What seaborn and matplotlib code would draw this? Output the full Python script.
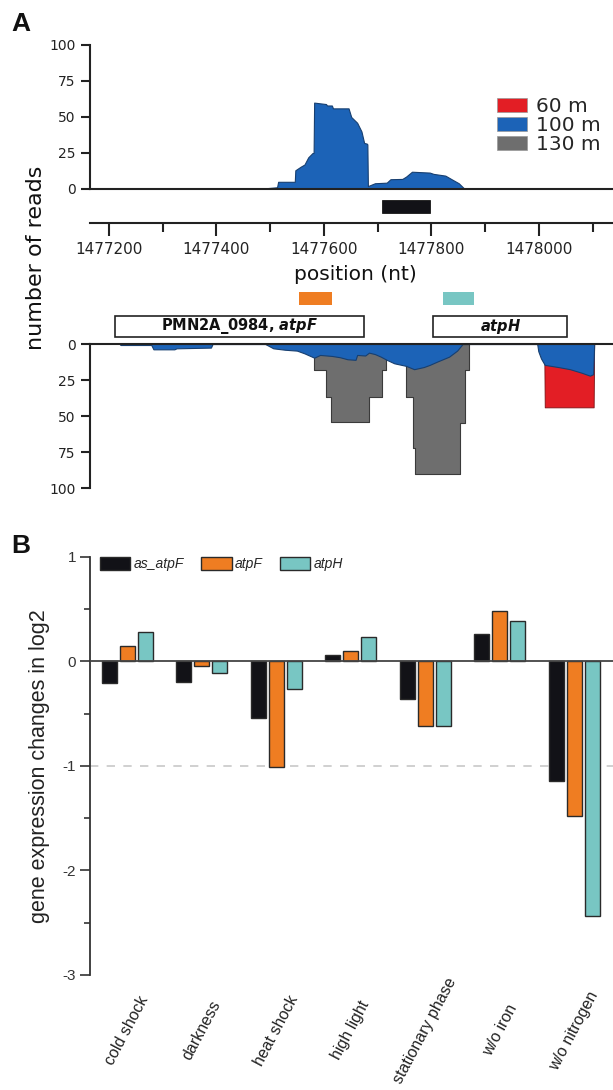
import pandas as pd
import seaborn as sns
import matplotlib.pyplot as plt
from matplotlib.patches import Patch

# --- данные панели A: покрытие ридами (позиция в нт, число ридов) ---
top_pos = [1477491, 1477513, 1477515, 1477546, 1477547, 1477557, 1477564, 1477571,
           1477579, 1477581, 1477582, 1477604, 1477606, 1477615, 1477617, 1477646,
           1477651, 1477662, 1477670, 1477675, 1477680, 1477681, 1477682, 1477695,
           1477717, 1477724, 1477746, 1477753, 1477764, 1477797, 1477804, 1477826,
           1477840, 1477851, 1477862]
top_100m = [0.5, 1.2, 5, 5, 13, 15.5, 17, 22, 25, 25, 60, 59, 58, 58, 56, 56,
            50, 46, 40, 32, 31.5, 31, 2, 4, 4.4, 6.8, 7, 8.6, 12, 11.4, 10.5, 9.3,
            6.3, 4, 0]

bot_pos_100 = [1477220, 1477222, 1477279, 1477283, 1477322, 1477326, 1477390, 1477393,
               1477491, 1477506, 1477528, 1477550, 1477564, 1477579, 1477582, 1477593,
               1477615, 1477630, 1477644, 1477659, 1477662, 1477677, 1477684, 1477695,
               1477706, 1477717, 1477731, 1477753, 1477768, 1477786, 1477797, 1477811,
               1477833, 1477848, 1477855, 1477858, 1477997, 1477999, 1478001, 1478004,
               1478011, 1478036, 1478058, 1478080, 1478095, 1478101, 1478103]
bot_100m = [0, 0.7, 0.7, 3.7, 3.7, 3, 2.5, 0, 0, 3, 4, 4.6, 6.5, 9, 9.5, 7.6,
            8.3, 9.2, 10.6, 11, 7.6, 8, 6, 7, 8.8, 11, 13.4, 15.2, 17.5, 16, 14.5, 12.2,
            8.8, 4.6, 1.4, 0, 0, 5, 7, 10, 14.5, 16, 17.5, 20, 22, 21, 0]

gray_pos = [1477582, 1477604, 1477613, 1477684, 1477708, 1477715, 1477753, 1477766,
            1477770, 1477853, 1477862, 1477871]
bot_130m = [18, 37, 54, 37, 18, 0, 37, 72, 90, 55, 18, 0]

red_pos = [1478010, 1478011, 1478102, 1478103]
bot_60m = [0, 44, 44, 0]

# элементы генома
as_atpF_span = (1477708, 1477797)
atpF_probe = (1477553, 1477615)
atpH_probe = (1477821, 1477879)
gene_starts = [1477212, 1477804]
gene_ends = [1477675, 1478053]
gene_labels = [r'PMN2A_0984, $\mathit{atpF}$', r'$\mathit{atpH}$']

# --- данные панели B ---
conditions = ['cold shock', 'darkness', 'heat shock', 'high light',
              'stationary phase', 'w/o iron', 'w/o nitrogen']
genes = ['as_atpF', 'atpF', 'atpH']
as_atpF = [-0.21, -0.20, -0.54, 0.06, -0.36, 0.26, -1.14]
atpF = [0.15, -0.04, -1.01, 0.10, -0.62, 0.48, -1.48]
atpH = [0.28, -0.11, -0.26, 0.23, -0.62, 0.39, -2.44]

red, blue, gray = '#e31e25', '#1c63b7', '#6e6e6e'
c_black, c_orange, c_teal = '#121217', '#ef7d22', '#78c6c3'
dark = '#222222'

sns.set_theme(style='white')
plt.rcParams['font.family'] = ['DejaVu Sans']
plt.rcParams['axes.unicode_minus'] = False
plt.rcParams['mathtext.fontset'] = 'custom'
plt.rcParams['mathtext.it'] = 'DejaVu Sans:italic:bold'
plt.rcParams['mathtext.rm'] = 'DejaVu Sans:bold'

W, H = 613, 1090
fig = plt.figure(figsize=(W / 100, H / 100), dpi=100)


def px_axes(x0, y0, x1, y1):
    return fig.add_axes([x0 / W, 1 - y1 / H, (x1 - x0) / W, (y1 - y0) / H])


xlim = (1477165, 1478138)

ax_top = px_axes(90, 45, 613, 189)
ax_mid = px_axes(90, 189, 613, 344)
ax_bot = px_axes(90, 344, 613, 488)
ax_b = px_axes(90, 557, 613, 975)

# верхнее покрытие
ax_top.fill_between(top_pos, top_100m, color=blue, edgecolor='#173f70', lw=0.8)
ax_top.set_xlim(xlim)
ax_top.set_ylim(0, 100)
ax_top.set_yticks([0, 25, 50, 75, 100])
ax_top.set_xticks([])
for s in ['top', 'right']:
    ax_top.spines[s].set_visible(False)
for s in ['left', 'bottom']:
    ax_top.spines[s].set_color(dark)
    ax_top.spines[s].set_linewidth(1.5)
ax_top.tick_params(axis='y', left=True, length=6.5, width=1.5, color=dark,
                   pad=4, labelsize=10, labelcolor=dark)
ax_top.set_facecolor('none')

handles = [Patch(facecolor=c, edgecolor='#999999', lw=0.5) for c in [red, blue, gray]]
ax_top.legend(handles, ['60 m', '100 m', '130 m'], loc='upper left',
              bbox_to_anchor=((497 - 90) / 523, (189 - 97) / 144), frameon=False,
              fontsize=14.5, handlelength=1.5, handleheight=0.65,
              handletextpad=0.45, labelspacing=0.0, borderpad=0, borderaxespad=0)

# нижнее покрытие (обратная ось)
ax_bot.fill_between(red_pos, bot_60m, color=red, edgecolor='#7a1014', lw=0.6)
ax_bot.fill_between(gray_pos, bot_130m, step='post', color=gray,
                    edgecolor='#3a3a3a', lw=0.8)
ax_bot.fill_between(bot_pos_100, bot_100m, color=blue, edgecolor='#173f70', lw=0.8)
ax_bot.set_xlim(xlim)
ax_bot.set_ylim(100, 0)
ax_bot.set_yticks([0, 25, 50, 75, 100])
ax_bot.set_xticks([])
for s in ['bottom', 'right']:
    ax_bot.spines[s].set_visible(False)
for s in ['left', 'top']:
    ax_bot.spines[s].set_color(dark)
    ax_bot.spines[s].set_linewidth(1.5)
ax_bot.tick_params(axis='y', left=True, length=6.5, width=1.5, color=dark,
                   pad=4, labelsize=10, labelcolor=dark)
ax_bot.set_facecolor('none')

# средняя часть: шкала позиций, антисмысловой транскрипт, зонды, гены
ax_mid.set_xlim(xlim)
ax_mid.set_ylim(155, 0)
ax_mid.set_facecolor('none')
for s in ['top', 'right', 'left']:
    ax_mid.spines[s].set_visible(False)
ax_mid.spines['bottom'].set_position(('data', 34))
ax_mid.spines['bottom'].set_color(dark)
ax_mid.spines['bottom'].set_linewidth(1.5)
ax_mid.set_yticks([])
ax_mid.set_xticks(range(1477200, 1478001, 200))
ax_mid.set_xticks(range(1477300, 1478101, 200), minor=True)
ax_mid.ticklabel_format(axis='x', useOffset=False, style='plain')
ax_mid.tick_params(axis='x', which='major', bottom=True, direction='out', length=9,
                   width=1.5, color=dark, pad=5, labelsize=11, labelcolor=dark)
ax_mid.tick_params(axis='x', which='minor', bottom=True, direction='out', length=6.5,
                   width=1.5, color=dark)

ax_mid.barh(17.5, as_atpF_span[1] - as_atpF_span[0], left=as_atpF_span[0], height=13,
            color=c_black, edgecolor='#000000', lw=0.5)
ax_mid.barh(109.5, atpF_probe[1] - atpF_probe[0], left=atpF_probe[0], height=13,
            color=c_orange, lw=0)
ax_mid.barh(109.5, atpH_probe[1] - atpH_probe[0], left=atpH_probe[0], height=13,
            color=c_teal, lw=0)
for st, en, lab in zip(gene_starts, gene_ends, gene_labels):
    ax_mid.barh(137.5, en - st, left=st, height=21.5, facecolor='white',
                edgecolor=dark, lw=1.2)
    ax_mid.text((st + en) / 2, 137.5, lab, ha='center', va='center',
                fontsize=10.5, fontweight='bold', color='#111111')

fig.text(355 / W, 1 - 274 / H, 'position (nt)', ha='center', va='center',
         fontsize=14.5, color='#111111')
fig.text(36 / W, 1 - 258 / H, 'number of reads', ha='center', va='center',
         rotation=90, fontsize=16, color='#111111')

# --- панель B ---
df = pd.DataFrame({
    'condition': conditions * 3,
    'gene': [g for g in genes for _ in conditions],
    'value': as_atpF + atpF + atpH,
})
ax_b.axhline(-1, color='#c8c8c8', lw=1.2, ls=(0, (5, 5)), zorder=0)
sns.barplot(data=df, x='condition', y='value', hue='gene', hue_order=genes,
            palette=[c_black, c_orange, c_teal], saturation=1, width=0.72, gap=0.15,
            edgecolor='#2a2a2a', linewidth=1.0, ax=ax_b, zorder=2)
ax_b.axhline(0, color='#444444', lw=1.3, zorder=3)
ax_b.set_xlim(-0.5, 6.52)
ax_b.set_ylim(-3, 1)
ax_b.set_yticks([-3, -2, -1, 0, 1])
ax_b.set_yticks([-2.5, -1.5, -0.5, 0.5], minor=True)
ax_b.set_xlabel('')
ax_b.set_ylabel('')
ax_b.set_facecolor('none')
for s in ['top', 'right', 'bottom']:
    ax_b.spines[s].set_visible(False)
ax_b.spines['left'].set_color('#333333')
ax_b.spines['left'].set_linewidth(1.3)
ax_b.tick_params(axis='y', which='major', left=True, length=7, width=1.2,
                 color='#333333', pad=3, labelsize=11, labelcolor='#333333',
                 labelfontfamily='Liberation Sans')
ax_b.tick_params(axis='y', which='minor', left=True, length=4, width=1.2,
                 color='#333333')
# подписи категорий центрированы под группой, ~56 px ниже оси
ax_b.tick_params(axis='x', length=0, pad=40)
ax_b.set_xticks(range(len(conditions)))
ax_b.set_xticklabels(conditions, rotation=62, ha='center', va='center',
                     rotation_mode='anchor', fontsize=11.5, family='Liberation Sans',
                     color='#222222')

sns.move_legend(ax_b, 'upper left', bbox_to_anchor=(0.019, 1.0), ncol=3,
                frameon=False, title=None,
                prop={'family': 'Liberation Sans', 'style': 'italic', 'size': 10},
                handlelength=2.2, handleheight=1.08, handletextpad=0.25,
                columnspacing=1.2, borderpad=0, borderaxespad=0)

fig.text(40 / W, 1 - 766 / H, 'gene expression changes in log2', ha='center',
         va='center', rotation=90, fontsize=15.5, family='Liberation Sans',
         color='#222222')

fig.text(21 / W, 1 - 24 / H, 'A', ha='center', va='center', fontsize=19,
         fontweight='bold', family='Liberation Sans', color='#111111')
fig.text(21 / W, 1 - 546 / H, 'B', ha='center', va='center', fontsize=19,
         fontweight='bold', family='Liberation Sans', color='#111111')

fig.savefig('out.png', dpi=100)
